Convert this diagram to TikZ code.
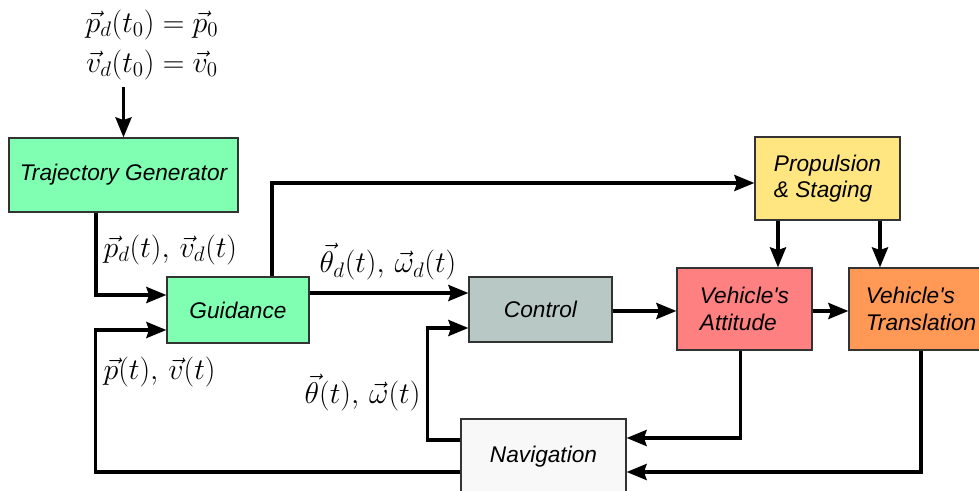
\RequirePackage{fix-cm}
\documentclass[tikz,border=0pt]{standalone}
\usepackage{fontspec}
\setmainfont{Liberation Sans}
\usepackage{amsmath}
\usetikzlibrary{arrows.meta,positioning,calc}
\definecolor{guidgreen}{RGB}{128, 255, 178}
\definecolor{ctrlgrey}{RGB}{184, 201, 197}
\definecolor{attred}{RGB}{255, 128, 128}
\definecolor{transorange}{RGB}{255, 153, 85}
\definecolor{propyellow}{RGB}{255, 230, 128}
\definecolor{navwhite}{RGB}{248, 248, 248}
\definecolor{edgegrey}{RGB}{51, 51, 51}

\tikzset{
  block/.style={draw=edgegrey, line width=0.9pt, font=\fontsize{17}{20}\selectfont\itshape, align=left, inner sep=3pt},
  arr/.style={-{Stealth[length=15pt, width=12pt, inset=2pt]}, line width=2.6pt},
  sig/.style={font=\fontsize{22.5}{27}\selectfont, inner sep=1pt}
}

\begin{document}
\begin{tikzpicture}[x=0.75pt, y=-0.75pt]
        \useasboundingbox (0,0) rectangle (979,491);
        % blocks
        \node[block, fill=guidgreen, minimum width=171.75pt, minimum height=55.5pt] (traj) at (123.5,175) {Trajectory Generator};
        \node[block, fill=guidgreen, minimum width=106.5pt, minimum height=49.5pt] (guid) at (238,310) {Guidance};
        \node[block, fill=ctrlgrey, minimum width=107.25pt, minimum height=48.75pt] (ctrl) at (540.5,309.5) {Control};
        \node[block, fill=attred, minimum width=101.25pt, minimum height=61.5pt] (att) at (744.5,309) {Vehicle\textquotesingle s\\Attitude};
        \node[block, fill=transorange, minimum width=108pt, minimum height=61.5pt] (trans) at (921,309) {Vehicle\textquotesingle s\\Translation};
        \node[block, fill=propyellow, minimum width=108.75pt, minimum height=62.25pt] (prop) at (827.5,178.5) {Propulsion\\\& Staging};
        \node[block, fill=navwhite, minimum width=123.75pt, minimum height=57pt] (nav) at (543.5,457) {Navigation};
        % signals
        \node[sig, align=center, font=\fontsize{22.5}{30}\selectfont] (init) at (152,45) {$\vec{p}_d(t_0) = \vec{p}_0$\\$\vec{v}_d(t_0) = \vec{v}_0$};
        \node[sig, anchor=west] (pdlbl) at (102,250) {$\vec{p}_d(t),\, \vec{v}_d(t)$};
        \node[sig] (thdlbl) at (388,262) {$\vec{\theta}_d(t),\, \vec{\omega}_d(t)$};
        \node[sig, anchor=west] (plbl) at (102,372) {$\vec{p}(t),\, \vec{v}(t)$};
        \node[sig, anchor=east] (thlbl) at (422,393) {$\vec{\theta}(t),\, \vec{\omega}(t)$};
        % connectors
        \draw[arr] ($(traj.north)+(0,-50)$) -- (traj.north);
        \draw[arr] ($(traj.south)+(-27.5,0)$) |- ($(guid.west)+(0,-15)$);
        \draw[arr] ($(guid.north)+(34,0)$) |- ($(prop.west)+(0,4.5)$);
        \draw[arr] ($(guid.east)+(0,-17)$) coordinate (g1) -- (ctrl.west |- g1);
        \draw[arr] ($(ctrl.east)+(0,1.5)$) coordinate (c1) -- (att.west |- c1);
        \draw[arr] ($(att.east)+(0,2)$) coordinate (a1) -- (trans.west |- a1);
        \draw[arr] ($(prop.south)+(-49.5,0)$) coordinate (p1) -- (p1 |- att.north);
        \draw[arr] ($(prop.south)+(52.5,0)$) coordinate (p2) -- (p2 |- trans.north);
        \draw[arr] ($(att.south)+(-4,0)$) |- ($(nav.east)+(0,-19)$);
        \draw[arr] (trans.south) |- ($(nav.east)+(0,15)$);
        \draw[arr] ($(nav.west)+(0,-17)$) -| ($(ctrl.west)+(-41,18.5)$) -- ($(ctrl.west)+(0,18.5)$);
        \draw[arr] ($(nav.west)+(0,15)$) -| ($(guid.west)+(-71,20)$) -- ($(guid.west)+(0,20)$);
    \end{tikzpicture}
\end{document}
